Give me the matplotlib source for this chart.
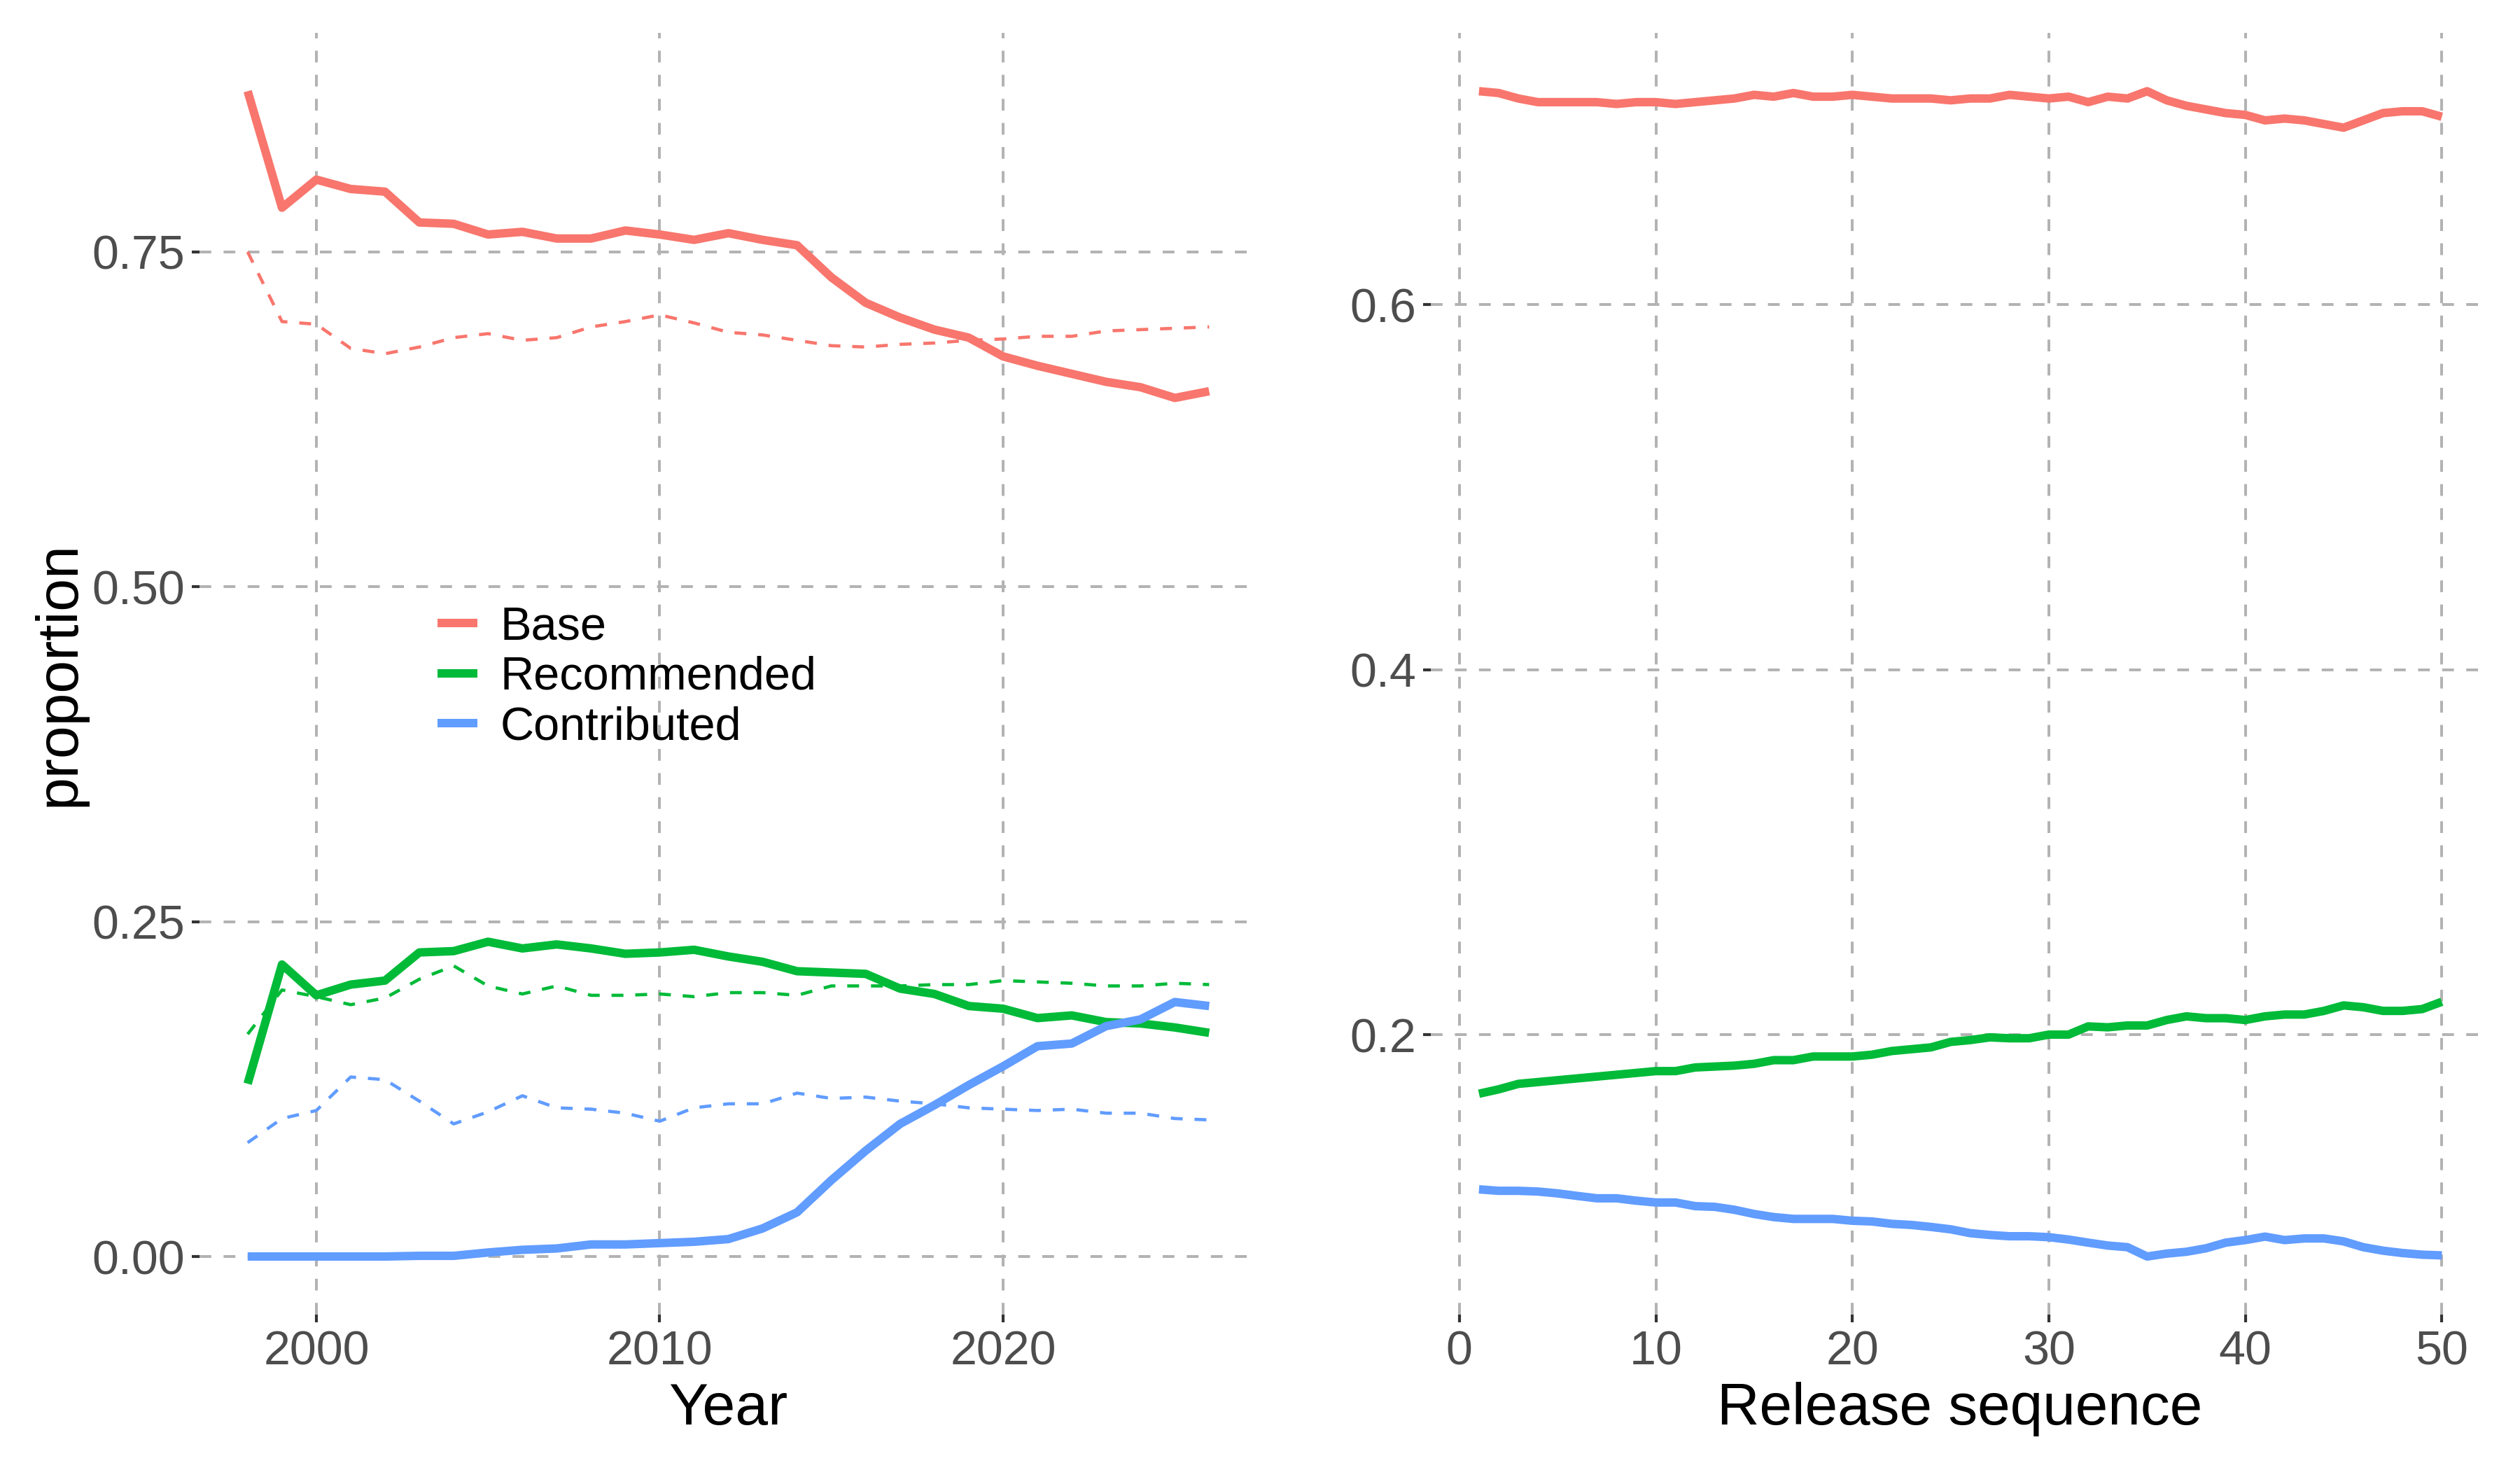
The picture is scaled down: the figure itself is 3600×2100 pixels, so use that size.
import numpy as np
import matplotlib
matplotlib.use("Agg")
import matplotlib.pyplot as plt
from matplotlib.lines import Line2D

plt.rcParams["font.family"] = ["Liberation Sans", "DejaVu Sans"]

# ---- data -------------------------------------------------------------
groups = ["Base", "Recommended", "Contributed"]
colours = ["#F8766D", "#00BA38", "#619CFF"]

years = list(range(1998, 2027))

# solid lines (left panel)
base_year = [0.870, 0.783, 0.804, 0.797, 0.795, 0.772, 0.771, 0.763, 0.765, 0.760,
             0.760, 0.766, 0.763, 0.759, 0.764, 0.759, 0.755, 0.731, 0.712, 0.701,
             0.692, 0.686, 0.672, 0.665, 0.659, 0.653, 0.649, 0.641, 0.646]
rec_year = [0.129, 0.218, 0.195, 0.203, 0.206, 0.227, 0.228, 0.235, 0.230, 0.233,
            0.230, 0.226, 0.227, 0.229, 0.224, 0.220, 0.213, 0.212, 0.211, 0.200,
            0.196, 0.187, 0.185, 0.178, 0.180, 0.175, 0.174, 0.171, 0.167]
contrib_year = [0.000, 0.000, 0.000, 0.000, 0.000, 0.0005, 0.0005, 0.003, 0.005, 0.006,
                0.009, 0.009, 0.010, 0.011, 0.013, 0.021, 0.033, 0.057, 0.079, 0.099,
                0.113, 0.128, 0.142, 0.157, 0.159, 0.172, 0.177, 0.190, 0.187]

# dashed lines (left panel)
base_year_d = [0.750, 0.698, 0.696, 0.678, 0.674, 0.679, 0.686, 0.689, 0.684, 0.686,
               0.694, 0.698, 0.703, 0.697, 0.690, 0.688, 0.684, 0.680, 0.679, 0.681,
               0.682, 0.684, 0.685, 0.687, 0.687, 0.691, 0.692, 0.693, 0.694]
rec_year_d = [0.166, 0.199, 0.194, 0.188, 0.193, 0.207, 0.217, 0.202, 0.196, 0.202,
              0.195, 0.195, 0.196, 0.194, 0.197, 0.197, 0.195, 0.202, 0.202, 0.202,
              0.203, 0.203, 0.206, 0.205, 0.204, 0.202, 0.202, 0.204, 0.203]
contrib_year_d = [0.085, 0.103, 0.109, 0.134, 0.132, 0.116, 0.099, 0.108, 0.120, 0.111,
                  0.110, 0.107, 0.101, 0.111, 0.114, 0.114, 0.122, 0.118, 0.119, 0.116,
                  0.114, 0.111, 0.110, 0.109, 0.110, 0.107, 0.107, 0.103, 0.102]

# right panel
release = list(range(1, 51))
base_rel = [0.717, 0.716, 0.713, 0.711, 0.711, 0.711, 0.711, 0.710, 0.711, 0.711,
            0.710, 0.711, 0.712, 0.713, 0.715, 0.714, 0.716, 0.714, 0.714, 0.715,
            0.714, 0.713, 0.713, 0.713, 0.712, 0.713, 0.713, 0.715, 0.714, 0.713,
            0.714, 0.711, 0.714, 0.713, 0.717, 0.712, 0.709, 0.707, 0.705, 0.704,
            0.701, 0.702, 0.701, 0.699, 0.697, 0.701, 0.705, 0.706, 0.706, 0.703]
rec_rel = [0.1676, 0.170, 0.173, 0.174, 0.175, 0.176, 0.177, 0.178, 0.179, 0.180,
           0.180, 0.182, 0.1825, 0.183, 0.184, 0.186, 0.186, 0.188, 0.188, 0.188,
           0.189, 0.191, 0.192, 0.193, 0.196, 0.197, 0.1985, 0.198, 0.198, 0.200,
           0.200, 0.2045, 0.204, 0.205, 0.205, 0.208, 0.210, 0.209, 0.209, 0.208,
           0.210, 0.211, 0.211, 0.213, 0.216, 0.215, 0.213, 0.213, 0.214, 0.218]
contrib_rel = [0.1152, 0.1144, 0.1144, 0.114, 0.113, 0.1116, 0.1103, 0.1103, 0.109, 0.108,
               0.108, 0.106, 0.1056, 0.104, 0.1017, 0.100, 0.099, 0.099, 0.099, 0.098,
               0.0976, 0.0963, 0.0957, 0.0946, 0.0933, 0.0912, 0.0902, 0.0895, 0.0895, 0.089,
               0.0877, 0.086, 0.0844, 0.0835, 0.0784, 0.080, 0.081, 0.0829, 0.086, 0.0874,
               0.0893, 0.0874, 0.0883, 0.0883, 0.0867, 0.0835, 0.0816, 0.0803, 0.0794, 0.079]

year_ticks = [2000, 2010, 2020]
prop_ticks = [0.0, 0.25, 0.5, 0.75]
prop_labels = ["0.00", "0.25", "0.50", "0.75"]
release_ticks = [0, 10, 20, 30, 40, 50]
rel_prop_ticks = [0.2, 0.4, 0.6]
rel_prop_labels = ["0.2", "0.4", "0.6"]


def expand(vals, f=0.05):
    lo, hi = min(vals), max(vals)
    d = (hi - lo) * f
    return lo - d, hi + d


def style(ax):
    for s in ax.spines.values():
        s.set_visible(False)
    ax.grid(True, color="#B3B3B3", linewidth=0.96, linestyle=(0, (4.2, 4.4)))
    ax.set_axisbelow(True)
    ax.tick_params(length=2.6, width=1.0, color="#333333", labelsize=16.4,
                   labelcolor="#4D4D4D", pad=2.4)


fig = plt.figure(figsize=(12, 7), dpi=300)
ax1 = fig.add_axes([0.0792, 0.1056, 0.4197, 0.872])
ax2 = fig.add_axes([0.5678, 0.1056, 0.4203, 0.872])

solid_year = [base_year, rec_year, contrib_year]
dashed_year = [base_year_d, rec_year_d, contrib_year_d]
solid_rel = [base_rel, rec_rel, contrib_rel]

for ys, c in zip(dashed_year, colours):
    ax1.plot(years, ys, color=c, lw=1.1, linestyle=(0, (3.7, 3.7)),
             dash_capstyle="butt", dash_joinstyle="round")
for ys, c in zip(solid_year, colours):
    ax1.plot(years, ys, color=c, lw=2.9, solid_capstyle="butt",
             solid_joinstyle="round")

for ys, c in zip(solid_rel, colours):
    ax2.plot(release, ys, color=c, lw=2.9, solid_capstyle="butt",
             solid_joinstyle="round")

ax1.set_xlim(*expand(years))
ax1.set_ylim(*expand(sum(solid_year + dashed_year, [])))
ax1.set_xticks(year_ticks)
ax1.set_yticks(prop_ticks)
ax1.set_yticklabels(prop_labels)
style(ax1)

ax2.set_xlim(*expand(release))
ax2.set_ylim(*expand(sum(solid_rel, [])))
ax2.set_xticks(release_ticks)
ax2.set_yticks(rel_prop_ticks)
ax2.set_yticklabels(rel_prop_labels)
style(ax2)

fig.text(0.2889, 0.031, "Year", ha="center", va="baseline", fontsize=20.2)
fig.text(0.7778, 0.031, "Release sequence", ha="center", va="baseline", fontsize=20.1)
fig.text(107 / 3600, 0.5414, "proportion", rotation=90, ha="center", va="baseline",
         rotation_mode="anchor", fontsize=20.2)

handles = [Line2D([], [], color=c, lw=2.9, solid_capstyle="butt") for c in colours]
fig.legend(handles, groups, loc="center left", bbox_to_anchor=(625 / 3600, 1 - 968 / 2100),
           frameon=False, fontsize=16.0, handlelength=0.86, handletextpad=0.48,
           labelspacing=0.14, borderpad=0, borderaxespad=0)

fig.savefig("out.png", dpi=300, facecolor="white")
